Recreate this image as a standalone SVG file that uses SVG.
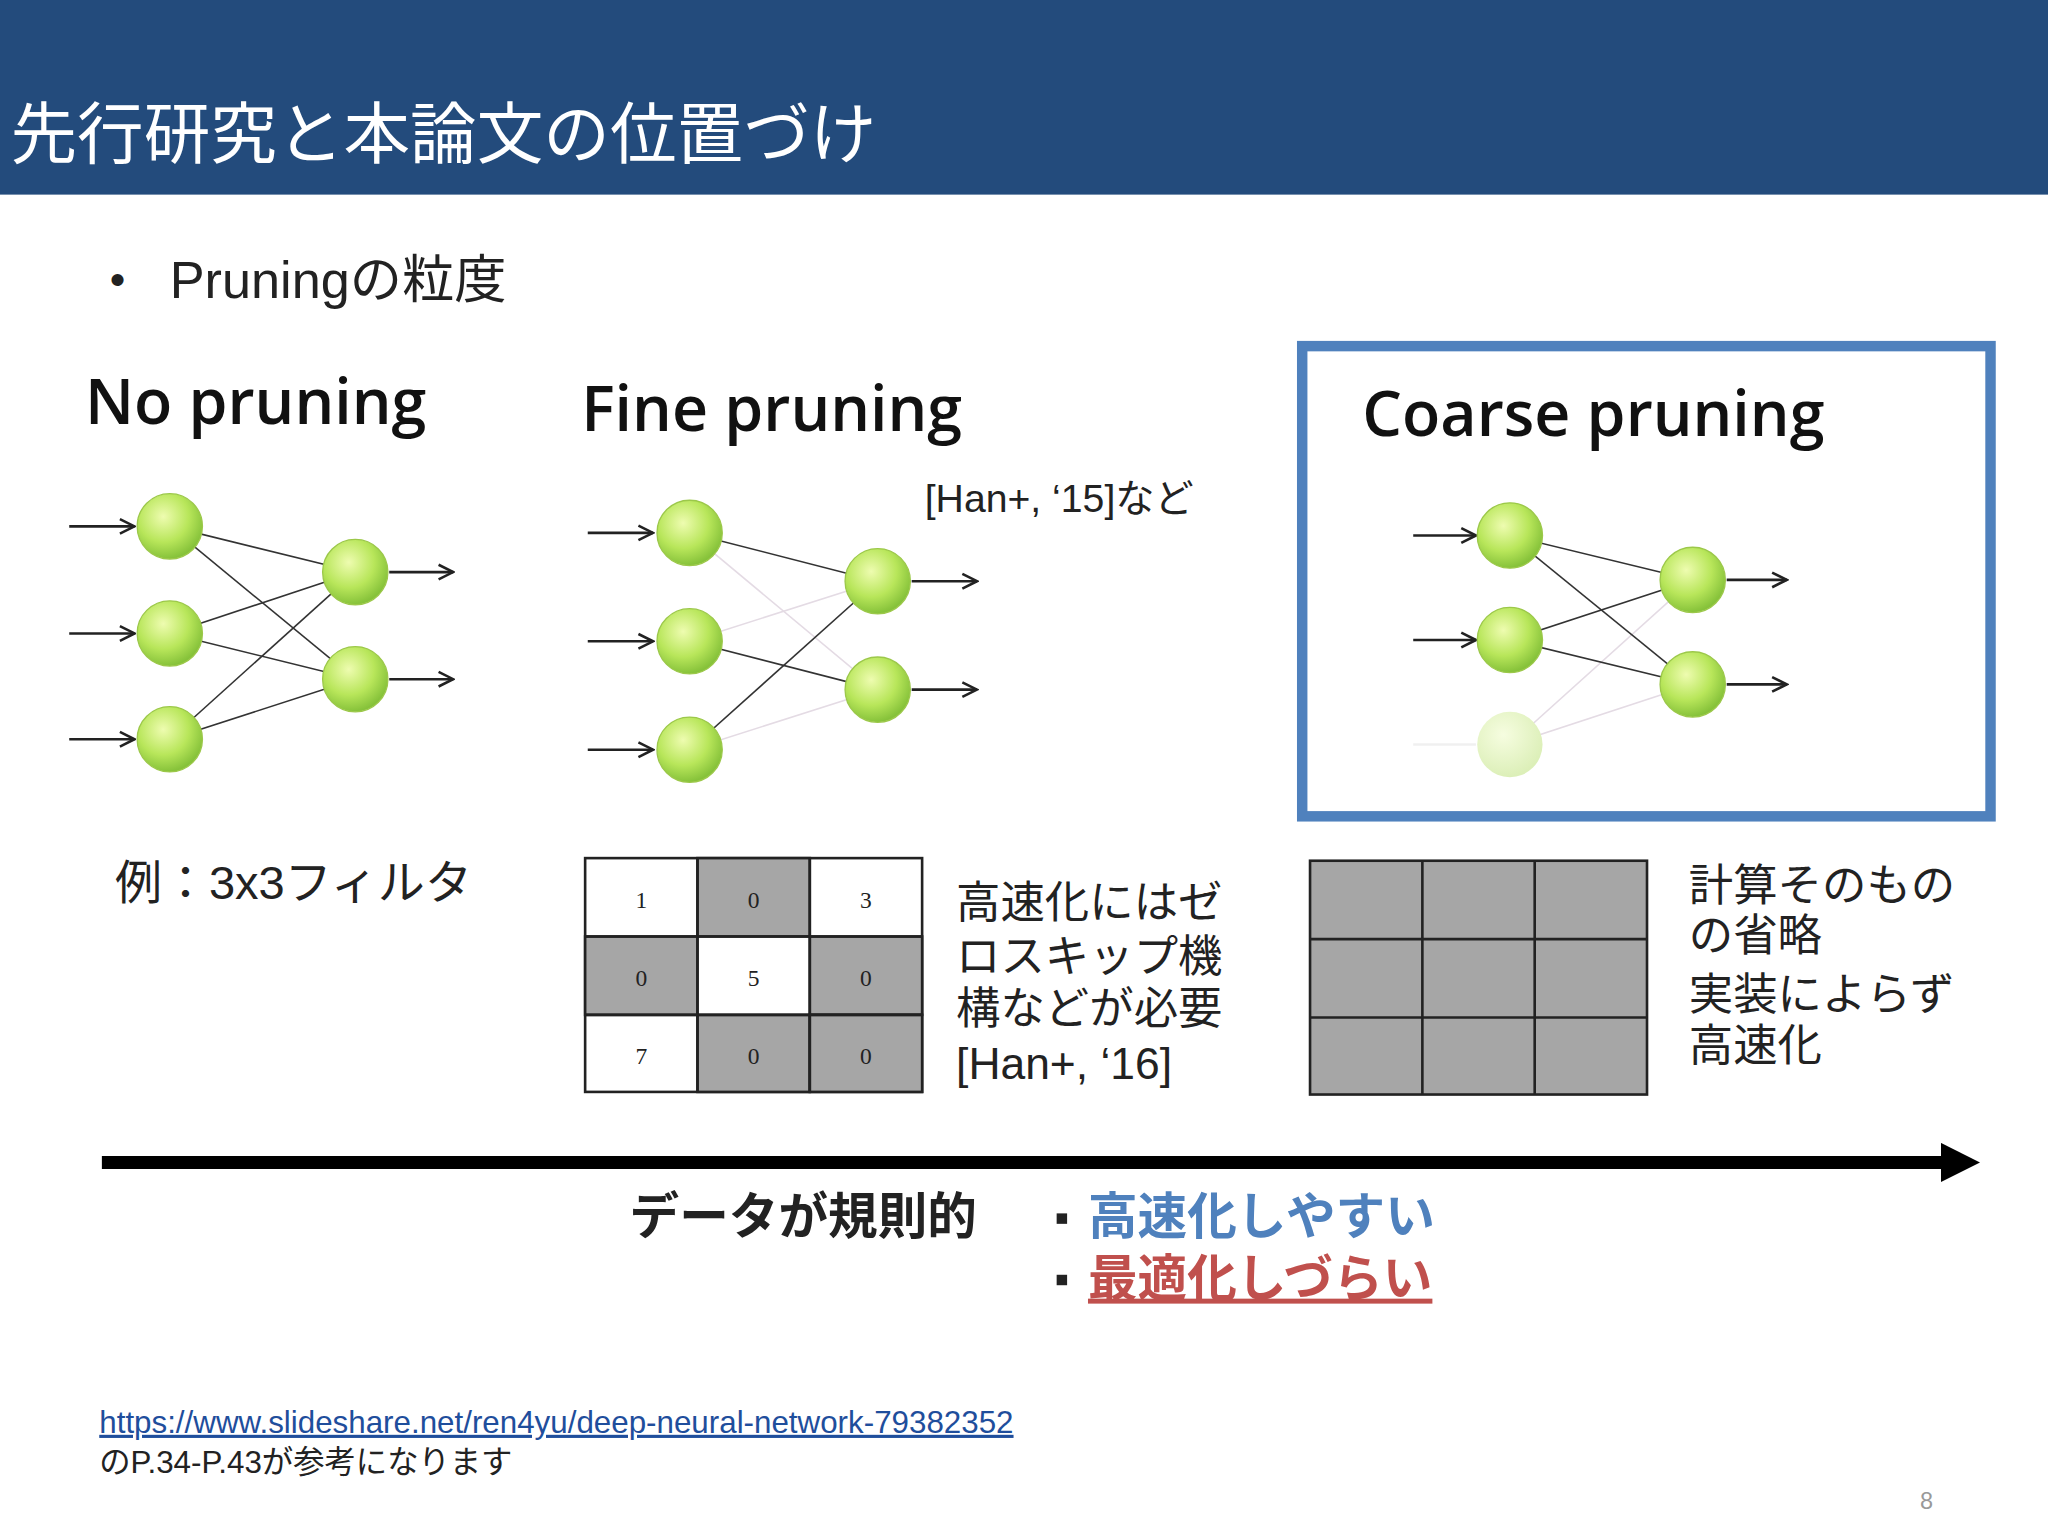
<svg xmlns="http://www.w3.org/2000/svg" width="2048" height="1536" viewBox="0 0 2048 1536">
<defs>
<radialGradient id="g" cx="0.4" cy="0.35" r="0.65"><stop offset="0" stop-color="#eefcb0"/><stop offset="0.6" stop-color="#b8e65a"/><stop offset="1" stop-color="#86c23a"/></radialGradient>
<radialGradient id="gf" cx="0.4" cy="0.35" r="0.65"><stop offset="0" stop-color="#f6fde0"/><stop offset="1" stop-color="#dcefb8"/></radialGradient>
<marker id="a" viewBox="0 0 10 10" refX="9" refY="5" markerWidth="14" markerHeight="14" markerUnits="userSpaceOnUse" orient="auto"><path d="M1,1 L9,5 L1,9" fill="none" stroke="#222" stroke-width="1.4"/></marker>
<marker id="big" viewBox="0 0 10 10" refX="2" refY="5" markerWidth="3" markerHeight="3" orient="auto"><path d="M0,0 L10,5 L0,10 z" fill="#000"/></marker>
</defs>
<style>
.t{font-family:"Liberation Sans","Noto Sans CJK JP",sans-serif;fill:#222}
.h{font-family:"Open Sans","Liberation Sans",sans-serif;fill:#111;font-weight:600}
.n{fill:url(#g);stroke:#9cc84a;stroke-width:1}
.e{stroke:#333;stroke-width:1.2}
.ef{stroke:#e4dbe4;stroke-width:1.2}
.ar{stroke:#222;stroke-width:2;marker-end:url(#a)}
.c{font-family:"Liberation Serif",serif;font-size:18px;text-anchor:middle;fill:#222}
</style>
<rect width="2048" height="1536" fill="#fff"/>
<g transform="scale(1.30612)">
<rect x="0" y="0" width="1568" height="149" fill="#234b7c"/>
<text x="8" y="121" class="t" style="fill:#fff;font-size:51px">先行研究と本論文の位置づけ</text>
<text x="84" y="226" class="t" font-size="34">•</text>
<text x="130" y="228" class="t" font-size="40">Pruningの粒度</text>
<g id="noprune">
<text x="65" y="325" class="h" font-size="48">No pruning</text>
<g class="e"><line x1="130" y1="403" x2="272" y2="438"/><line x1="130" y1="403" x2="272" y2="520"/><line x1="130" y1="485" x2="272" y2="438"/><line x1="130" y1="485" x2="272" y2="520"/><line x1="130" y1="566" x2="272" y2="438"/><line x1="130" y1="566" x2="272" y2="520"/></g>
<line x1="53" y1="403" x2="103" y2="403" class="ar"/><line x1="53" y1="485" x2="103" y2="485" class="ar"/><line x1="53" y1="566" x2="103" y2="566" class="ar"/>
<line x1="298" y1="438" x2="347" y2="438" class="ar"/><line x1="298" y1="520" x2="347" y2="520" class="ar"/>
<circle cx="130" cy="403" r="25" class="n"/><circle cx="130" cy="485" r="25" class="n"/><circle cx="130" cy="566" r="25" class="n"/><circle cx="272" cy="438" r="25" class="n"/><circle cx="272" cy="520" r="25" class="n"/>
</g>
<g id="fineprune">
<text x="445" y="330" class="h" font-size="48">Fine pruning</text>
<text x="708" y="392" class="t" font-size="30">[Han+, ‘15]など</text>
<line x1="528" y1="408" x2="672" y2="528" class="ef"/><line x1="528" y1="491" x2="672" y2="445" class="ef"/><line x1="528" y1="574" x2="672" y2="528" class="ef"/>
<line x1="528" y1="408" x2="672" y2="445" class="e"/><line x1="528" y1="491" x2="672" y2="528" class="e"/><line x1="528" y1="574" x2="672" y2="445" class="e"/>
<line x1="450" y1="408" x2="500" y2="408" class="ar"/><line x1="450" y1="491" x2="500" y2="491" class="ar"/><line x1="450" y1="574" x2="500" y2="574" class="ar"/>
<line x1="698" y1="445" x2="748" y2="445" class="ar"/><line x1="698" y1="528" x2="748" y2="528" class="ar"/>
<circle cx="528" cy="408" r="25" class="n"/><circle cx="528" cy="491" r="25" class="n"/><circle cx="528" cy="574" r="25" class="n"/><circle cx="672" cy="445" r="25" class="n"/><circle cx="672" cy="528" r="25" class="n"/>
</g>
<g id="coarseprune">
<rect x="997" y="265" width="527" height="360" fill="none" stroke="#4f81bd" stroke-width="8"/>
<text x="1043" y="334" class="h" font-size="48">Coarse pruning</text>
<line x1="1156" y1="570" x2="1296" y2="444" class="ef"/><line x1="1156" y1="570" x2="1296" y2="524" class="ef"/>
<line x1="1082" y1="570" x2="1130" y2="570" stroke="#f0f0f0" stroke-width="2"/>
<g class="e"><line x1="1156" y1="410" x2="1296" y2="444"/><line x1="1156" y1="410" x2="1296" y2="524"/><line x1="1156" y1="490" x2="1296" y2="444"/><line x1="1156" y1="490" x2="1296" y2="524"/></g>
<line x1="1082" y1="410" x2="1130" y2="410" class="ar"/><line x1="1082" y1="490" x2="1130" y2="490" class="ar"/>
<line x1="1322" y1="444" x2="1368" y2="444" class="ar"/><line x1="1322" y1="524" x2="1368" y2="524" class="ar"/>
<circle cx="1156" cy="410" r="25" class="n"/><circle cx="1156" cy="490" r="25" class="n"/><circle cx="1156" cy="570" r="25" fill="url(#gf)"/><circle cx="1296" cy="444" r="25" class="n"/><circle cx="1296" cy="524" r="25" class="n"/>
</g>
<text x="88" y="688" class="t" font-size="36">例：3x3フィルタ</text>
<g id="grid1" stroke="#222" stroke-width="2">
<rect x="448" y="657" width="258" height="179" fill="#fff"/>
<rect x="534" y="657" width="86" height="60" fill="#a6a6a6"/><rect x="448" y="717" width="86" height="60" fill="#a6a6a6"/><rect x="620" y="717" width="86" height="60" fill="#a6a6a6"/><rect x="534" y="777" width="86" height="59" fill="#a6a6a6"/><rect x="620" y="777" width="86" height="59" fill="#a6a6a6"/>
<line x1="534" y1="657" x2="534" y2="836"/><line x1="620" y1="657" x2="620" y2="836"/><line x1="448" y1="717" x2="706" y2="717"/><line x1="448" y1="777" x2="706" y2="777"/>
</g>
<g id="grid1text">
<text x="491" y="695" class="c">1</text><text x="577" y="695" class="c">0</text><text x="663" y="695" class="c">3</text>
<text x="491" y="755" class="c">0</text><text x="577" y="755" class="c">5</text><text x="663" y="755" class="c">0</text>
<text x="491" y="815" class="c">7</text><text x="577" y="815" class="c">0</text><text x="663" y="815" class="c">0</text>
</g>
<g class="t" font-size="34"><text x="732" y="703">高速化にはゼ</text><text x="732" y="744">ロスキップ機</text><text x="732" y="784">構などが必要</text><text x="732" y="826">[Han+, ‘16]</text></g>
<g id="grid2" stroke="#222" stroke-width="2">
<rect x="1003" y="659" width="258" height="179" fill="#a6a6a6"/>
<line x1="1089" y1="659" x2="1089" y2="838"/><line x1="1175" y1="659" x2="1175" y2="838"/><line x1="1003" y1="719" x2="1261" y2="719"/><line x1="1003" y1="779" x2="1261" y2="779"/>
</g>
<g class="t" font-size="34"><text x="1293" y="690">計算そのもの</text><text x="1293" y="728">の省略</text><text x="1293" y="773">実装によらず</text><text x="1293" y="812">高速化</text></g>
<g id="connectors"><line x1="78" y1="890" x2="1492" y2="890" stroke="#000" stroke-width="10" marker-end="url(#big)"/></g>
<text x="482" y="945" class="t" font-size="38" font-weight="bold">データが規則的</text>
<rect x="809" y="929" width="8" height="8" fill="#222"/>
<text x="833" y="945" class="t" font-size="38" font-weight="bold" style="fill:#4f81bd">高速化しやすい</text>
<rect x="809" y="976" width="8" height="8" fill="#222"/>
<text x="833" y="992" class="t" font-size="38" font-weight="bold" style="fill:#c0504d" text-decoration="underline">最適化しづらい</text>
<text x="76" y="1097" class="t" font-size="24" style="fill:#1f4e9c" text-decoration="underline">https://www.slideshare.net/ren4yu/deep-neural-network-79382352</text>
<text x="76" y="1128" class="t" font-size="24">のP.34-P.43が参考になります</text>
<text x="1470" y="1155" class="t" font-size="18" style="fill:#999">8</text>
</g>
</svg>
